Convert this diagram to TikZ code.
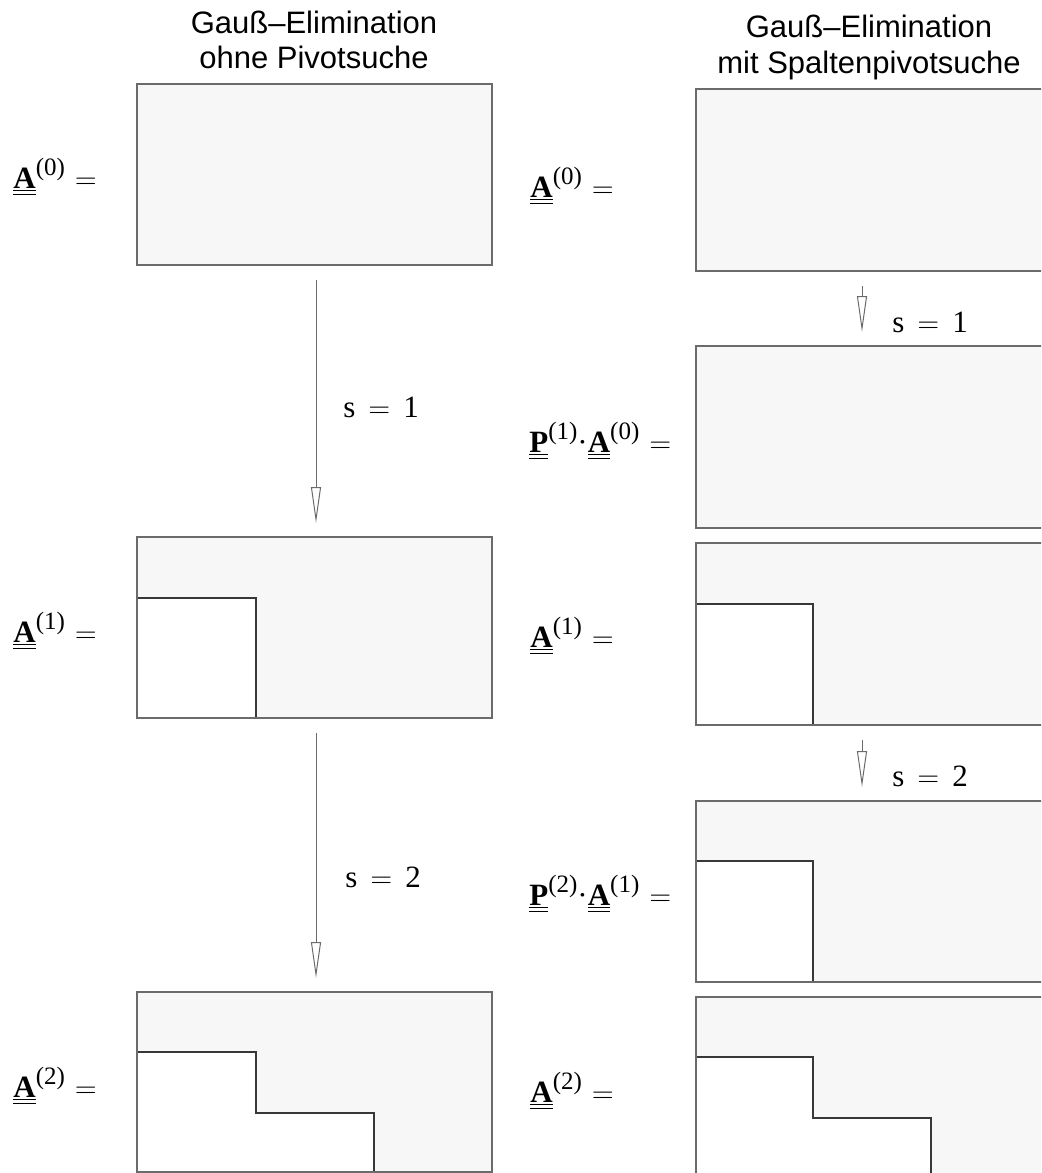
\documentclass[tikz,border=0pt]{standalone}
\usepackage{fontspec}
\setmainfont{Liberation Serif}
\setsansfont{Liberation Sans}
\usetikzlibrary{arrows.meta}
\definecolor{matfill}{gray}{0.97}
\definecolor{matframe}{gray}{0.42}
\definecolor{matstep}{gray}{0.22}
\newcommand{\mtx}[1]{\underline{\underline{\textbf{#1}}}}
\newcommand{\stepidx}[1]{\raisebox{6.5pt}{\fontsize{12.5}{12.5}\selectfont(#1)}}
\tikzset{
  matbox/.style={rectangle,fill=matfill,inner sep=0pt,outer sep=0pt,
    minimum width=177.5pt,minimum height=90.5pt,anchor=north west},
  frame/.style={draw=matframe,line width=0.75pt},
  stepline/.style={draw=matstep,line width=0.55pt},
  elim/.style={draw=matframe,line width=0.5pt,
    -{Triangle[open,length=18pt,width=5pt]},shorten <=7.5pt,shorten >=7pt},
  eqlabel/.style={anchor=base west,inner sep=0pt,font=\fontsize{15.5}{15.5}\selectfont},
  slabel/.style={anchor=base west,inner sep=0pt,font=\fontsize{15.5}{15.5}\selectfont},
  heading/.style={anchor=base,inner sep=0pt,font=\sffamily\fontsize{15.5}{15.5}\selectfont}
}
\begin{document}
\begin{tikzpicture}[x=0.5pt,y=-0.5pt]
\useasboundingbox (0,0) rectangle (1041,1173);
\clip (0,0) rectangle (1041,1173);
%
\node[heading] (hl1) at (314,33) {Gauß–Elimination};
\node[heading] (hl2) at (314,68) {ohne Pivotsuche};
\node[heading] (hr1) at (869,37) {Gauß–Elimination};
\node[heading] (hr2) at (869,73) {mit Spaltenpivotsuche};
%
\node[matbox] (L0) at (137,84) {};
\node[matbox] (L1) at (137,537) {};
\node[matbox,minimum height=90pt] (L2) at (137,992) {};
%
\node[matbox,minimum width=176pt,minimum height=91pt] (R0) at (696,89) {};
\node[matbox,minimum width=176pt,minimum height=91pt] (R1) at (696,346) {};
\node[matbox,minimum width=176pt,minimum height=91pt] (R2) at (696,543) {};
\node[matbox,minimum width=176pt,minimum height=90.5pt] (R3) at (696,801) {};
\node[matbox,minimum width=176pt,minimum height=91pt] (R4) at (696,997) {};
%
\fill[white] (137,598) rectangle (256,719);
\draw[stepline] (137,598) -- (256,598) -- (256,719);
\fill[white] (137,1052) -- (256,1052) -- (256,1113) -- (374,1113) -- (374,1172) -- (137,1172) -- cycle;
\draw[stepline] (137,1052) -- (256,1052) -- (256,1113) -- (374,1113) -- (374,1172);
%
\fill[white] (696,604) rectangle (813,725);
\draw[stepline] (696,604) -- (813,604) -- (813,725);
\fill[white] (696,861) rectangle (813,982);
\draw[stepline] (696,861) -- (813,861) -- (813,982);
\fill[white] (696,1057) -- (813,1057) -- (813,1118) -- (931,1118) -- (931,1179) -- (696,1179) -- cycle;
\draw[stepline] (696,1057) -- (813,1057) -- (813,1118) -- (931,1118) -- (931,1179);
%
\foreach \m in {L0,L1,L2,R0,R1,R2,R3,R4}
  \draw[frame] (\m.north west) rectangle (\m.south east);
%
\node[eqlabel] (la0) at (13,188) {\mtx{A}\stepidx{0}\hspace{5pt}$=$};
\node[eqlabel] (la1) at (13,642) {\mtx{A}\stepidx{1}\hspace{5pt}$=$};
\node[eqlabel] (la2) at (13,1097) {\mtx{A}\stepidx{2}\hspace{5pt}$=$};
%
\node[eqlabel] (ra0) at (530,197) {\mtx{A}\stepidx{0}\hspace{5pt}$=$};
\node[eqlabel] (rpa1) at (529,452) {\mtx{P}\stepidx{1}·\mtx{A}\stepidx{0}\hspace{5pt}$=$};
\node[eqlabel] (ra1) at (530,647) {\mtx{A}\stepidx{1}\hspace{5pt}$=$};
\node[eqlabel] (rpa2) at (529,905) {\mtx{P}\stepidx{2}·\mtx{A}\stepidx{1}\hspace{5pt}$=$};
\node[eqlabel] (ra2) at (530,1102) {\mtx{A}\stepidx{2}\hspace{5pt}$=$};
%
\coordinate (axL) at (316,0);
\coordinate (axR) at (862,0);
\draw[elim] (L0.south -| axL) -- (L1.north -| axL);
\draw[elim] (L1.south -| axL) -- (L2.north -| axL);
\draw[elim] (R0.south -| axR) -- (R1.north -| axR);
\draw[elim] (R2.south -| axR) -- (R3.north -| axR);
%
\node[slabel] (sl1) at (343,417) {s\hspace{6.5pt}$=$\hspace{6.5pt}1};
\node[slabel] (sl2) at (345,887) {s\hspace{6.5pt}$=$\hspace{6.5pt}2};
\node[slabel] (sr1) at (892,332) {s\hspace{6.5pt}$=$\hspace{6.5pt}1};
\node[slabel] (sr2) at (892,786) {s\hspace{6.5pt}$=$\hspace{6.5pt}2};
\end{tikzpicture}
\end{document}
